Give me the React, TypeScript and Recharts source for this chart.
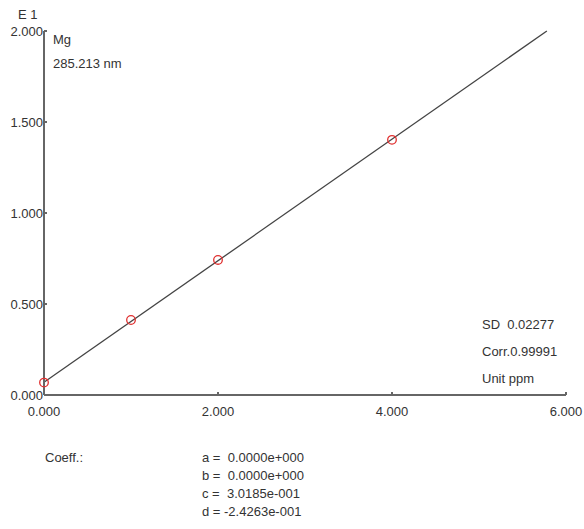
import { ComposedChart, Line, Scatter, XAxis, YAxis } from "recharts";

const concentrations = [0, 1, 2, 4];
const intensities = [0.068, 0.412, 0.742, 1.402];
const fitX = [0, 5.78];
const fitY = [0.07, 2.0];
const xTicks = [0, 2, 4, 6];
const yTicks = [0, 0.5, 1, 1.5, 2];
const coeffLines = ["a =  0.0000e+000", "b =  0.0000e+000", "c =  3.0185e-001", "d = -2.4263e-001"];
const stats = ["SD  0.02277", "Corr.0.99991", "Unit ppm"];

const points = concentrations.map((x, i) => ({ x, y: intensities[i] }));
const fit = fitX.map((x, i) => ({ x, y: fitY[i] }));

const font = "'Liberation Sans', Arial, sans-serif";
const axisColor = "#666";
const txt = { position: "absolute" as const, fontFamily: font, fontSize: 13, color: "#333", whiteSpace: "pre" as const, lineHeight: "14px" };

export default function App() {
  return (
    <div style={{ position: "absolute", left: 0, top: 0, width: 584, height: 529, background: "#fff" }}>
      <ComposedChart width={584} height={529} margin={{ top: 31, right: 18, bottom: 104, left: 4 }}>
        <XAxis
          dataKey="x"
          type="number"
          domain={[0, 6]}
          ticks={xTicks}
          tickFormatter={(v) => v.toFixed(3)}
          height={30}
          tickSize={-3}
          tickMargin={15}
          stroke={axisColor}
          strokeWidth={2}
          tick={{ fill: "#333", fontSize: 13, fontFamily: font }}
        />
        <YAxis
          type="number"
          domain={[0, 2]}
          ticks={yTicks}
          tickFormatter={(v) => v.toFixed(3)}
          width={40}
          tickSize={-3}
          tickMargin={4}
          stroke={axisColor}
          strokeWidth={2}
          tick={{ fill: "#333", fontSize: 13, fontFamily: font }}
        />
        <Line data={fit} dataKey="y" stroke="#444" strokeWidth={1.3} dot={false} isAnimationActive={false} />
        <Scatter
          data={points}
          dataKey="y"
          isAnimationActive={false}
          shape={(p: any) => <circle cx={p.cx} cy={p.cy} r={4.3} fill="none" stroke="#e03030" strokeWidth={1.3} />}
        />
      </ComposedChart>
      <div style={{ ...txt, left: 18, top: 8 }}>E 1</div>
      <div style={{ ...txt, left: 53, top: 33 }}>Mg</div>
      <div style={{ ...txt, left: 53, top: 57 }}>285.213 nm</div>
      {stats.map((s, i) => (
        <div key={s} style={{ ...txt, left: 482, top: 318 + i * 27 }}>{s}</div>
      ))}
      <div style={{ ...txt, left: 45, top: 451 }}>Coeff.:</div>
      {coeffLines.map((s, i) => (
        <div key={s} style={{ ...txt, left: 202, top: 451 + i * 18 }}>{s}</div>
      ))}
    </div>
  );
}
